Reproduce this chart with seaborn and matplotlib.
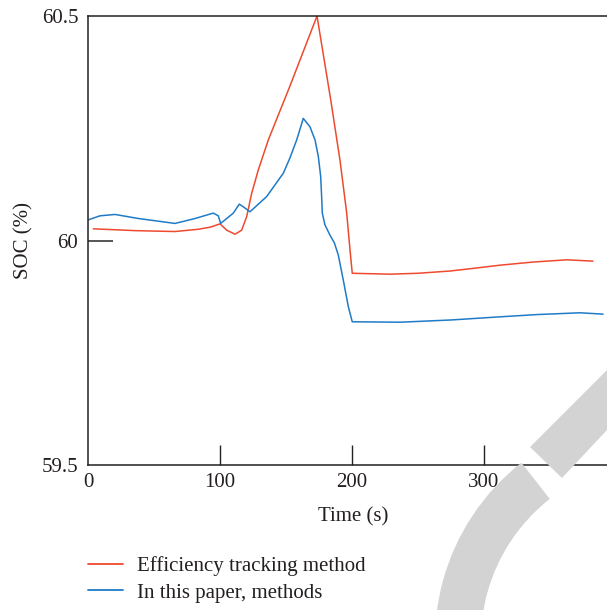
import numpy as np
import pandas as pd
import matplotlib
matplotlib.use("Agg")
import matplotlib.pyplot as plt
import matplotlib.transforms as mtransforms
from matplotlib.patches import Wedge, Polygon
from matplotlib.lines import Line2D
import seaborn as sns

# ---- data ----
series_names = ["Efficiency tracking method", "In this paper, methods"]

red_t = [4.0, 20.0, 35.6, 50.0, 65.9, 83.6, 93.0, 100.0, 105.1, 111.4, 116.4, 120.2, 124.0, 129.0, 136.6,
         153.0, 173.5, 183.9, 190.9, 196.0, 198.5, 200.2,
         228.8, 250.0, 274.2, 295.0, 312.1, 337.1, 362.9, 382.6]
red_v = [60.026, 60.024, 60.022, 60.021, 60.020, 60.025, 60.030, 60.037, 60.023, 60.014, 60.023, 60.053, 60.105, 60.157, 60.224,
         60.344, 60.5, 60.313, 60.179, 60.061, 59.979, 59.927,
         59.925, 59.927, 59.932, 59.939, 59.945, 59.952, 59.957, 59.954]

blue_t = [0.2, 9.1, 20.5, 38.1, 50.8, 65.9, 81.1, 94.9, 98.7, 100.5, 110.1, 114.6, 117.7, 122.7, 135.4,
          148.0, 153.0, 158.1, 163.1, 168.2, 172.0, 174.5, 176.3, 177.0, 177.5, 179.5, 183.3, 186.6, 189.6,
          193.4, 197.2, 200.2, 236.4, 275.0, 312.1, 340.0, 372.7, 390.2]
blue_v = [60.046, 60.055, 60.058, 60.049, 60.044, 60.038, 60.049, 60.061, 60.055, 60.038, 60.061, 60.081, 60.075, 60.064, 60.098,
          60.150, 60.184, 60.224, 60.272, 60.253, 60.224, 60.187, 60.142, 60.098, 60.061, 60.035, 60.012, 59.995, 59.968,
          59.912, 59.853, 59.819, 59.818, 59.823, 59.830, 59.835, 59.839, 59.836]

x_ticks = [0, 100, 200, 300]
y_ticks = [59.5, 60, 60.5]
y_tick_labels = ["59.5", "60", "60.5"]

colors = ["#EE4A2F", "#1F7BC6"]

df = pd.concat([
    pd.DataFrame({"t": red_t, "v": red_v, "method": series_names[0]}),
    pd.DataFrame({"t": blue_t, "v": blue_v, "method": series_names[1]}),
])

sns.set_style("ticks")
plt.rcParams["font.family"] = ["Liberation Serif", "DejaVu Serif"]
plt.rcParams["font.size"] = 15
plt.rcParams["lines.solid_joinstyle"] = "round"

fig = plt.figure(figsize=(6.07, 6.10), dpi=100)
ax = fig.add_axes([88/607, 1-465/610, 1-88/607, (465-16)/610])

sns.lineplot(data=df, x="t", y="v", hue="method", palette=colors, sort=False,
             estimator=None, linewidth=1.1, ax=ax, legend=False)

ax.set_xlim(0, 393.2)
ax.set_ylim(59.5, 60.5)
ax.set_xticks(x_ticks)
ax.set_yticks(y_ticks)
ax.set_yticklabels(y_tick_labels)
ax.tick_params(axis="x", direction="in", length=14.5, width=1.0, color="#222222", pad=6,
               labelsize=15, labelcolor="#231f20")
ax.tick_params(axis="y", direction="in", length=18, width=1.4, color="#555555", pad=7,
               labelsize=15, labelcolor="#231f20")
yt = ax.yaxis.get_major_ticks()
yt[0].tick1line.set_visible(False)
yt[2].tick1line.set_visible(False)
ax.xaxis.get_major_ticks()[0].tick1line.set_visible(False)
for s in ["left", "bottom", "top"]:
    ax.spines[s].set_linewidth(1.1)
    ax.spines[s].set_color("#231f20")
ax.spines["right"].set_visible(False)

ax.set_xlabel("Time (s)", fontsize=15, color="#231f20")
ax.set_ylabel("SOC (%)", fontsize=15, color="#231f20")
ax.xaxis.set_label_coords(0.51, -0.094)
ax.yaxis.set_label_coords(-0.106, 0.5)

handles = [Line2D([], [], color=c, linewidth=1.3) for c in colors]
fig.legend(handles, series_names, loc="upper left", bbox_to_anchor=(88/607, 1-556/610),
           bbox_transform=fig.transFigure, frameon=False, fontsize=15, borderpad=0,
           borderaxespad=0, handlelength=1.7, handletextpad=0.65, labelspacing=0.35,
           labelcolor="#231f20")

# light grey watermark shapes (decoration in the reference image)
idt = mtransforms.IdentityTransform()
fig.patches.append(Wedge((660, -30), 225, 128, 275, width=46, transform=idt,
                         facecolor="#d3d3d3", edgecolor="none", zorder=10, figure=fig))
fig.patches.append(Polygon([(530, 610-447), (607, 610-370), (607, 610-430), (562, 610-478)],
                           closed=True, transform=idt, facecolor="#d3d3d3",
                           edgecolor="none", zorder=10, figure=fig))

fig.savefig("out.png", dpi=100)
